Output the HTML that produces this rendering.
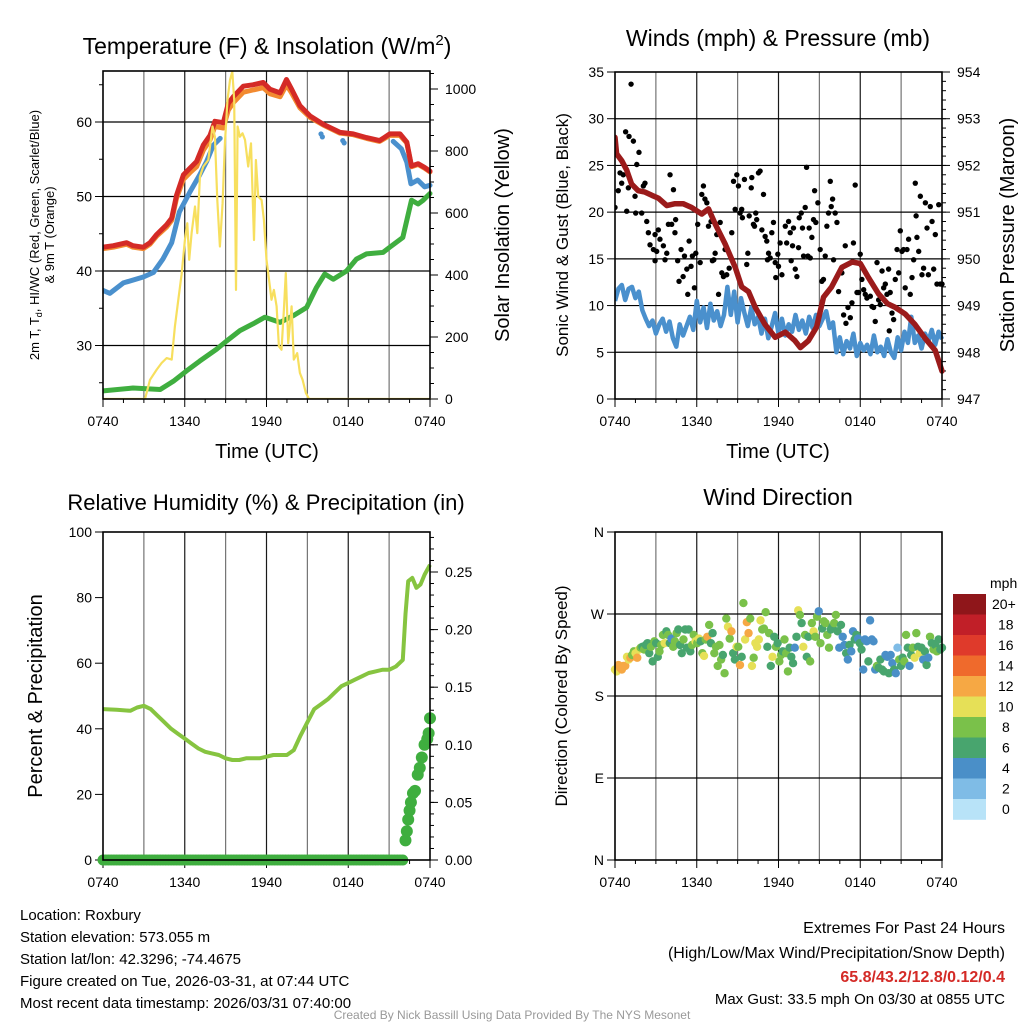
<!DOCTYPE html>
<html><head><meta charset="utf-8"><style>
html,body{margin:0;padding:0;background:#fff;}
svg{display:block;font-family:"Liberation Sans",Arial,sans-serif;}
</style></head><body>
<svg id="fig" width="1024" height="1024" viewBox="0 0 1024 1024" xmlns="http://www.w3.org/2000/svg">
<g id="p1"></g>
<g id="p2"></g>
<g id="p3"></g>
<g id="p4"></g>
<g font-size="15" fill="#000">
<text x="20" y="920">Location: Roxbury</text>
<text x="20" y="942">Station elevation: 573.055 m</text>
<text x="20" y="964">Station lat/lon: 42.3296; -74.4675</text>
<text x="20" y="986">Figure created on Tue, 2026-03-31, at 07:44 UTC</text>
<text x="20" y="1008">Most recent data timestamp: 2026/03/31 07:40:00</text>
</g>
<g text-anchor="end">
<text x="1005" y="933" font-size="16">Extremes For Past 24 Hours</text>
<text x="1005" y="958" font-size="16">(High/Low/Max Wind/Precipitation/Snow Depth)</text>
<text x="1005" y="982" font-size="16" font-weight="bold" fill="#d42a26">65.8/43.2/12.8/0.12/0.4</text>
<text x="1005" y="1004" font-size="15">Max Gust: 33.5 mph On 03/30 at 0855 UTC</text>
</g>
<text x="512" y="1019" font-size="12" fill="#999" text-anchor="middle">Created By Nick Bassill Using Data Provided By The NYS Mesonet</text>
</svg>
<script>
// ---------- data (hours since 0740 UTC) ----------
const xTickLabels = ["0740","1340","1940","0140","0740"];
const tempHours = [0,0.76,1.74,2.2,2.96,3.45,3.94,4.67,5.04,5.4,5.9,6.38,6.87,7.36,7.85,8.21,8.83,9.2,9.56,10.3,11.0,11.76,12.25,13.0,13.47,13.84,14.45,15.2,16.16,17.4,18.36,19.34,20.3,21.05,21.8,22.3,22.64,23.13,23.6,24];
const tempVals = [43.2,43.4,43.8,43.4,43.2,43.8,44.9,46.2,47.1,50.2,52.9,53.8,54.7,56.9,58.2,60.1,59.9,62.5,63.4,64.8,65.0,65.3,64.4,63.9,65.7,64.4,62.2,60.8,59.7,58.6,58.4,57.9,57.5,58.4,58.4,57.3,54.1,54.4,53.9,53.4];
const t9Vals = [43.0,43.2,43.6,43.2,43.0,43.6,44.7,45.9,46.8,49.8,52.3,53.2,54.0,56.2,57.6,59.4,59.2,61.6,62.6,64.0,64.3,64.6,63.8,63.4,65.0,63.9,61.9,60.6,59.6,58.5,58.3,57.8,57.4,58.2,58.2,57.2,54.0,54.3,53.8,53.3];
const wcHours = [0,0.5,1.5,2.96,3.7,4.4,5.04,5.6,6.38,7.1,7.6,8.1,8.6];
const wcVals = [37.4,37.0,38.4,39.2,39.8,41.6,43.8,47.9,50.6,52.9,54.7,56.9,57.8];
const wcHours2 = [21.3,21.9,22.3,22.6,23.1,23.6,24];
const wcVals2 = [57.4,56.4,54.6,51.7,52.2,51.3,51.5];
const wcDotHours = [16.0,16.1,17.6,17.7];
const wcDotVals = [58.4,58.0,57.5,57.2];
const dewHours = [0,2.2,4.2,5.16,6.14,7.1,8.34,9.07,10.05,11.0,11.88,13.0,13.96,14.94,15.67,16.28,16.9,17.87,18.6,19.34,20.56,21.05,22.0,22.64,23.13,23.5,24];
const dewVals = [23.9,24.3,24.1,25.2,26.6,27.9,29.5,30.6,32.0,32.9,33.8,33.1,34.0,35.1,37.8,39.6,38.9,40.0,41.6,42.3,42.5,43.2,44.5,49.5,49.0,49.5,50.4];
const solHours = [0,3.08,3.45,3.94,4.3,4.67,5.04,5.28,5.53,5.77,6.01,6.19,6.33,6.5,6.75,6.92,7.11,7.36,7.73,8.04,8.21,8.39,8.58,8.78,8.95,9.14,9.32,9.49,9.63,9.76,9.88,10.05,10.24,10.42,10.66,10.86,11.08,11.22,11.39,11.64,11.81,12.0,12.25,12.37,12.54,12.74,12.91,13.1,13.28,13.42,13.59,13.84,14.0,14.25,14.45,14.65,14.89,15.13,24];
const solVals = [0,0,62,95,116,132,127,234,320,402,513,567,449,535,621,535,717,750,771,879,846,642,492,632,825,965,1029,1056,965,352,879,846,857,836,750,825,513,771,653,642,578,449,363,320,352,299,170,159,288,406,180,299,127,148,84,62,19,0,0];
const tempTicks = [30,40,50,60];
const solTicks = [0,200,400,600,800,1000];

const presHours = [0,0.12,0.5,0.86,1.22,1.7,2.2,2.7,3.18,3.8,4.4,5.0,5.63,6.37,6.86,7.35,8.08,8.82,9.3,9.8,10.3,11.0,11.76,12.5,13.2,13.6,14.2,14.8,15.3,15.9,16.65,17.4,18.0,18.6,19.35,20.0,20.57,21.3,22.0,22.78,23.5,24.0];
const presVals = [952.6,952.25,952.1,951.9,951.6,951.46,951.43,951.36,951.3,951.14,951.18,951.18,951.1,950.96,951.07,950.75,950.32,949.82,949.4,949.3,948.96,948.6,948.32,948.43,948.25,948.1,948.25,948.54,949.18,949.4,949.82,949.93,949.9,949.6,949.25,949.04,948.96,948.82,948.6,948.29,948.04,947.6];
const windStep = 0.25;
const windVals = [10.5,11.8,12.2,10.6,11.8,12.0,10.8,11.5,9.5,8.6,7.8,8.4,7.0,8.0,8.6,7.2,8.3,6.5,5.6,8.0,6.8,7.8,8.8,7.4,10.5,8.2,9.8,7.6,10.2,8.4,9.4,7.8,9.0,12.0,9.0,11.5,8.2,10.8,9.2,7.8,9.8,8.0,8.8,7.0,8.6,6.5,7.8,9.2,7.0,8.6,6.8,8.0,7.2,9.0,7.4,8.4,7.0,8.8,7.6,9.0,7.8,8.6,9.4,7.6,8.2,5.0,6.6,4.8,6.2,5.4,7.0,4.6,6.0,5.2,5.8,4.8,6.8,5.0,5.6,4.6,6.4,5.0,4.4,6.6,5.2,7.2,6.0,8.8,6.0,6.8,5.4,7.0,6.2,7.4,5.8,7.2,6.4];
const gustHours = [0,0.24,0.37,0.49,0.61,0.78,0.86,0.98,1.03,1.18,1.35,1.47,1.52,1.6,1.76,1.96,2.08,2.2,2.33,2.45,2.57,2.82,2.94,2.94,3.06,3.18,3.3,3.55,3.67,3.8,3.92,4.04,4.16,4.29,4.4,4.45,4.6,4.7,4.85,5.0,5.1,5.27,5.34,5.44,5.58,5.68,5.83,5.93,6.07,6.25,6.37,6.49,6.6,6.74,6.86,7.05,7.15,7.25,7.35,7.47,7.6,7.72,7.84,7.96,8.08,8.2,8.38,8.57,8.7,8.82,8.94,9.06,9.18,9.3,9.35,9.5,9.67,9.75,9.85,10.0,10.04,10.16,10.24,10.33,10.4,10.53,10.65,10.78,10.9,11.02,11.14,11.19,11.27,11.39,11.51,11.63,11.76,11.8,11.95,12.0,12.12,12.25,12.5,12.6,12.74,12.86,12.93,13.03,13.1,13.23,13.35,13.47,13.52,13.67,13.76,13.84,13.96,14.06,14.16,14.25,14.33,14.45,14.57,14.65,14.74,14.89,15.06,15.18,15.3,15.43,15.55,15.67,15.8,15.87,15.97,16.04,16.16,16.29,16.41,16.65,16.78,16.9,16.95,17.1,17.27,17.39,17.5,17.63,17.76,17.88,18.0,18.12,18.25,18.37,18.49,18.74,18.86,18.98,19.1,19.23,19.35,19.47,19.6,19.72,19.84,19.96,20.08,20.13,20.2,20.33,20.45,20.57,20.7,20.82,20.94,21.06,21.18,21.3,21.43,21.55,21.67,21.8,21.92,22.04,22.1,22.16,22.29,22.41,22.53,22.65,22.78,22.9,23.0,23.14,23.27,23.39,23.51,23.63,23.76,23.88,24.0];
const gustVals = [20.5,22.3,24.2,23.1,24.0,28.6,20.1,22.6,28.1,33.7,27.6,21.7,19.9,25.1,26.4,19.9,22.8,23.1,19.0,17.8,16.5,16.0,17.6,14.8,15.8,18.1,17.1,16.4,14.9,15.6,18.7,24.0,18.7,22.4,17.8,19.2,14.8,12.6,16.0,13.1,15.3,13.9,11.2,16.9,14.2,15.3,11.9,15.6,18.7,14.6,21.9,22.8,21.4,21.0,18.5,19.0,14.8,14.9,15.6,17.6,11.2,18.9,13.5,13.1,16.0,13.3,14.0,17.8,23.3,20.3,24.0,22.8,19.9,20.3,19.4,23.5,14.4,15.6,19.6,22.6,23.7,18.7,18.5,19.9,19.2,24.2,24.4,18.1,21.9,17.4,16.9,14.9,15.6,15.1,17.8,18.9,14.6,13.0,15.5,14.2,16.7,13.3,18.5,16.7,19.0,17.8,14.8,16.4,18.3,13.9,13.1,16.2,19.4,19.9,18.3,15.3,20.5,24.8,15.3,18.3,15.1,17.3,19.2,22.3,18.9,21.0,16.0,12.6,12.8,15.3,18.5,19.9,23.3,20.6,21.4,14.9,19.9,18.9,11.5,13.5,9.0,16.4,8.1,9.8,8.7,10.3,16.7,22.9,11.4,11.4,15.5,12.8,11.7,11.2,10.8,11.0,9.9,9.8,8.3,14.6,10.6,10.1,13.7,11.9,12.3,11.2,13.9,7.3,11.4,9.2,8.5,12.8,16.0,13.5,18.0,15.8,16.0,11.9,16.0,17.1,11.2,13.0,14.9,23.1,19.6,17.3,15.8,21.7,13.3,14.0,21.0,18.3,13.3,20.6,19.0,13.9,17.6,12.3,20.8,12.3,12.3];
const windTicks = [0,5,10,15,20,25,30,35];
const presTicks = [947,948,949,950,951,952,953,954];

const rhHours = [0,1,2,2.5,3,3.5,4,4.5,5,5.5,6,6.5,7,7.5,8,8.5,9,9.5,10,10.5,11,11.5,12,12.5,13,13.5,14,14.5,15,15.5,16,16.5,17,17.5,18,18.5,19,19.5,20,20.5,21,21.5,22,22.2,22.4,22.7,23,23.3,23.6,24];
const rhVals = [46,45.8,45.5,46.5,47,46,44,42,40,38.5,37,35.5,34,33,32.5,32,31,30.5,30.5,31,31,31,31.5,32,32,32,33.5,38,42,46,47.5,49,51,53,54,55,56,57,57.5,58,58,59,61,75,85,86,83,84,87,90];
const precipStep = 0.2;
const precipVals = [0,0,0,0,0,0,0,0,0,0,0,0,0,0,0,0,0,0,0,0,0,0,0,0,0,0,0,0,0,0,0,0,0,0,0,0,0,0,0,0,0,0,0,0,0,0,0,0,0,0,0,0,0,0,0,0,0,0,0,0,0,0,0,0,0,0,0,0,0,0,0,0,0,0,0,0,0,0,0,0,0,0,0,0,0,0,0,0,0,0,0,0,0,0,0,0,0,0,0,0,0,0,0,0,0,0,0,0,0,0,0];
const precipRiseHours = [22.2,22.3,22.4,22.5,22.6,22.75,22.9,23.1,23.25,23.4,23.6,23.8,23.9,24];
const precipRiseVals = [0.017,0.025,0.035,0.043,0.05,0.058,0.06,0.074,0.08,0.089,0.1,0.105,0.11,0.123];
const rhTicks = [0,20,40,60,80,100];
const precipTicks = ["0.00","0.05","0.10","0.15","0.20","0.25"];

const dirVals = [209,207,214,211,209,213,213,223,220,222,225,229,227,222,231,233,234,231,236,238,227,234,218,240,238,223,229,236,247,238,251,247,238,243,234,240,249,253,236,227,242,253,233,253,229,236,247,240,238,243,240,227,224,242,245,258,238,249,227,234,213,236,220,225,205,265,256,243,251,227,220,234,234,214,223,282,242,261,249,265,213,222,238,234,242,263,253,254,272,234,249,213,223,245,234,238,218,225,229,242,227,207,233,223,216,233,245,274,269,260,234,247,223,245,218,260,251,245,267,273,238,254,262,260,247,233,253,256,260,269,251,233,258,245,236,227,220,236,229,251,242,247,243,238,231,209,242,240,218,263,242,240,209,213,211,220,209,207,225,223,205,225,216,209,205,233,220,213,222,218,247,233,213,225,233,222,249,234,227,233,220,229,214,222,245,238,231,236,229,242,231,233];
const spdVals = [10,10,12,12,12,12,12,10,10,12,8,8,10,12,10,8,6,8,6,6,6,8,6,8,6,6,8,8,8,10,6,8,6,4,8,8,8,6,6,6,8,6,6,6,6,8,8,10,8,10,6,8,10,8,12,8,6,6,8,8,8,8,8,6,8,8,10,8,12,6,6,10,8,12,6,8,10,12,12,8,10,8,10,10,10,10,8,8,8,6,8,6,10,6,8,6,8,8,6,8,8,8,6,6,6,4,6,10,8,6,10,8,6,6,8,8,10,8,8,4,8,6,8,8,8,8,6,6,8,8,6,4,6,4,4,6,4,6,4,4,6,6,4,6,6,4,4,4,6,4,4,4,4,8,6,6,6,6,4,4,6,4,4,6,4,2,8,6,6,8,8,6,4,6,8,10,8,6,10,6,4,6,6,4,8,6,8,6,8,6,6,6,6,6,6];
const dirTickLabels = ["N","E","S","W","N"];
const cbarLabels = ["0","2","4","6","8","10","12","14","16","18","20+"];
const cbarColors = ["#b8e3f8","#7fbce6","#4a8fc8","#48a56e","#7ac14a","#e6e057","#f6a844","#ef6a2c","#df3a2b","#c11f28","#8f161a"];

// ---------- helpers ----------
const NS = "http://www.w3.org/2000/svg";
function mk(parent, tag, attrs, txt){
  const e = document.createElementNS(NS, tag);
  for (const k in attrs) e.setAttribute(k, attrs[k]);
  if (txt !== undefined) e.textContent = txt;
  parent.appendChild(e);
  return e;
}
function xScale(L,R){ return h => L + h/24*(R-L); }
function linScale(v0,v1,p0,p1){ return v => p0 + (v-v0)/(v1-v0)*(p1-p0); }
function polyPts(hs, vs, sx, sy){ return hs.map((h,i)=>sx(h).toFixed(1)+","+sy(vs[i]).toFixed(1)).join(" "); }

function frame(g, L,R,T,B){
  const sx = xScale(L,R);
  // vertical grid every 3 h
  for (let h=3; h<24; h+=3){
    const gl = mk(g,"line",{x1:sx(h),x2:sx(h),y1:T,y2:B,stroke:"#000","stroke-width":1.2,"stroke-opacity":h%6===0?0.9:0.55});
    
    
  }
  for (let h=0; h<=24; h+=1.5){
    const tk = mk(g,"line",{x1:sx(h),x2:sx(h),y1:B,y2:B+(h%6===0?8:4),stroke:"#000","stroke-width":1});
    
    
  }
  xTickLabels.forEach((lab,i)=>{
    const t = mk(g,"text",{x:sx(i*6),y:B+27,"font-size":14,"text-anchor":"middle"},lab);
    
    
  });
}
function border(g,L,R,T,B){
  const r = mk(g,"rect",{x:L,y:T,width:R-L,height:B-T,fill:"none",stroke:"#000","stroke-width":1.6});
  
  
}
function leftTicks(g, vals, labels, sy, L, minorStep, vmin, vmax){
  if (minorStep) for (let v=vmin; v<=vmax+1e-9; v+=minorStep){
    mk(g,"line",{x1:L-4,x2:L,y1:sy(v),y2:sy(v),stroke:"#000","stroke-width":1});
  }
  vals.forEach((v,i)=>{
    mk(g,"line",{x1:L-8,x2:L,y1:sy(v),y2:sy(v),stroke:"#000","stroke-width":1});
    const t = mk(g,"text",{x:L-11,y:sy(v)+5,"font-size":14,"text-anchor":"end"},labels[i]);
    
    
  });
}
function rightTicks(g, vals, labels, sy, R, minorStep, vmin, vmax){
  if (minorStep) for (let v=vmin; v<=vmax+1e-9; v+=minorStep){
    mk(g,"line",{x1:R,x2:R+4,y1:sy(v),y2:sy(v),stroke:"#000","stroke-width":1});
  }
  vals.forEach((v,i)=>{
    mk(g,"line",{x1:R,x2:R+8,y1:sy(v),y2:sy(v),stroke:"#000","stroke-width":1});
    const t = mk(g,"text",{x:R+15,y:sy(v)+5,"font-size":14,"text-anchor":"start"},labels[i]);
    
    
  });
}
function rotText(g, x, y, txt, size, name){
  const t = mk(g,"text",{x:0,y:0,"font-size":size,"text-anchor":"middle",transform:`translate(${x},${y}) rotate(-90)`},txt);
  
  
  return t;
}

// ---------- panel 1 ----------
(function(){
  const g = document.getElementById("p1");
  const L=103,R=430,T=71,B=399;
  const sx = xScale(L,R);
  const sT = linScale(30,60,345.5,122);
  const sW = linScale(0,1000,399,89);
  frame(g,L,R,T,B);
  tempTicks.forEach(v=>{ mk(g,"line",{x1:L,x2:R,y1:sT(v),y2:sT(v),stroke:"#000","stroke-width":1.2}); });
  const title = mk(g,"text",{x:267,y:54,"font-size":23,"text-anchor":"middle"});
  
  
  title.innerHTML = 'Temperature (F) &amp; Insolation (W/m<tspan dy="-9" font-size="15">2</tspan><tspan dy="9">)</tspan>';
  const yl = mk(g,"text",{x:0,y:0,"font-size":13,"text-anchor":"middle",transform:"translate(39,235) rotate(-90)"});
  
  
  yl.innerHTML = '2m T, T<tspan dy="3" font-size="9">d</tspan><tspan dy="-3">, HI/WC (Red, Green, Scarlet/Blue)</tspan>';
  rotText(g,54,235,"& 9m T (Orange)",13,"temperature-y-axis-title-line2");
  rotText(g,509,235,"Solar Insolation (Yellow)",20,"insolation-y-axis-title");
  const xt = mk(g,"text",{x:267,y:458,"font-size":20,"text-anchor":"middle"},"Time (UTC)");
  
  
  leftTicks(g,tempTicks,tempTicks.map(String),sT,L,5,25,65);
  rightTicks(g,solTicks,solTicks.map(String),sW,R,50,0,1050);

  const clip = mk(g,"clipPath",{id:"c1"}); mk(clip,"rect",{x:L,y:T-6,width:R-L+3,height:B-T+6});
  const d = mk(g,"g",{"clip-path":"url(#c1)","fill":"none","stroke-linejoin":"round","stroke-linecap":"round"});
  const dew = mk(d,"polyline",{points:polyPts(dewHours,dewVals,sx,sT),stroke:"#3fae3f","stroke-width":5});
  
  
  const wc = mk(d,"polyline",{points:polyPts(wcHours,wcVals,sx,sT),stroke:"#4a90cd","stroke-width":5});
  
  
  const wc2 = mk(d,"polyline",{points:polyPts(wcHours2,wcVals2,sx,sT),stroke:"#4a90cd","stroke-width":5});
  
  
  wcDotHours.forEach((h,i)=>{
    const c = mk(d,"circle",{cx:sx(h),cy:sT(wcDotVals[i]),r:2.6,fill:"#4a90cd",stroke:"none"});
    
    
  });
  const t9 = mk(d,"polyline",{points:polyPts(tempHours,t9Vals,sx,sT),stroke:"#f28a30","stroke-width":5});
  
  
  const t2 = mk(d,"polyline",{points:polyPts(tempHours,tempVals,sx,sT),stroke:"#d42a26","stroke-width":5});
  
  
  const sol = mk(d,"polyline",{points:polyPts(solHours,solVals,sx,sW),stroke:"#f7df5e","stroke-width":2.2});
  
  
  border(g,L,R,T,B);
})();

// ---------- panel 2 ----------
(function(){
  const g = document.getElementById("p2");
  const L=615,R=942,T=72,B=399;
  const sx = xScale(L,R);
  const sWd = linScale(0,35,399,72);
  const sP = linScale(947,954,399,72);
  frame(g,L,R,T,B);
  windTicks.slice(1,7).forEach(v=>{ mk(g,"line",{x1:L,x2:R,y1:sWd(v),y2:sWd(v),stroke:"#000","stroke-width":1.2}); });
  const title = mk(g,"text",{x:778,y:46,"font-size":23,"text-anchor":"middle"},"Winds (mph) & Pressure (mb)");
  
  
  rotText(g,568,235,"Sonic Wind & Gust (Blue, Black)",17,"wind-y-axis-title");
  rotText(g,1014,235,"Station Pressure (Maroon)",20,"pressure-y-axis-title");
  const xt = mk(g,"text",{x:778,y:458,"font-size":20,"text-anchor":"middle"},"Time (UTC)");
  
  
  leftTicks(g,windTicks,windTicks.map(String),sWd,L,null);
  rightTicks(g,presTicks,presTicks.map(String),sP,R,0.2,947,954);
  const clip = mk(g,"clipPath",{id:"c2"}); mk(clip,"rect",{x:L,y:T,width:R-L+3,height:B-T});
  const d = mk(g,"g",{"clip-path":"url(#c2)","fill":"none","stroke-linejoin":"round"});
  const wh = windVals.map((v,i)=>i*windStep);
  const w = mk(d,"polyline",{points:polyPts(wh,windVals,sx,sWd),stroke:"#4a90cd","stroke-width":4.5});
  
  
  gustHours.forEach((h,i)=>{
    const c = mk(d,"circle",{cx:sx(h),cy:sWd(gustVals[i]),r:2.7,fill:"#000"});
    
    
  });
  const p = mk(d,"polyline",{points:polyPts(presHours,presVals,sx,sP),stroke:"#9b1b1b","stroke-width":5.5,"stroke-linecap":"round"});
  
  
  border(g,L,R,T,B);
})();

// ---------- panel 3 ----------
(function(){
  const g = document.getElementById("p3");
  const L=103,R=430,T=532,B=860;
  const sx = xScale(L,R);
  const sRH = linScale(0,100,860,532);
  const sPr = linScale(0,0.25,860,572);
  frame(g,L,R,T,B);
  const title = mk(g,"text",{x:266,y:510,"font-size":22,"text-anchor":"middle"},"Relative Humidity (%) & Precipitation (in)");
  
  
  rotText(g,42,696,"Percent & Precipitation",20,"humidity-y-axis-title");
  leftTicks(g,rhTicks,rhTicks.map(String),sRH,L,null);
  rightTicks(g,precipTicks.map(Number),precipTicks,sPr,R,0.01,0,0.28);
  const clip = mk(g,"clipPath",{id:"c3"}); mk(clip,"rect",{x:L-8,y:T,width:R-L+16,height:B-T+8});
  const d = mk(g,"g",{"clip-path":"url(#c3)","fill":"none","stroke-linejoin":"round"});
  const rh = mk(d,"polyline",{points:polyPts(rhHours,rhVals,sx,sRH),stroke:"#86c440","stroke-width":4});
  
  
  precipVals.forEach((v,i)=>{
    const c = mk(d,"circle",{cx:sx(i*precipStep),cy:sPr(v),r:5.5,fill:"#3fae3f"});
    
    
  });
  precipRiseHours.forEach((h,i)=>{
    const c = mk(d,"circle",{cx:sx(h),cy:sPr(precipRiseVals[i]),r:6,fill:"#3fae3f"});
    
    
  });
  border(g,L,R,T,B);
})();

// ---------- panel 4 ----------
(function(){
  const g = document.getElementById("p4");
  const L=615,R=942,T=532,B=860;
  const sx = xScale(L,R);
  const sD = linScale(0,360,860,532);
  frame(g,L,R,T,B);
  [90,180,270].forEach(v=>{ mk(g,"line",{x1:L,x2:R,y1:sD(v),y2:sD(v),stroke:"#000","stroke-width":1.2}); });
  const title = mk(g,"text",{x:778,y:505,"font-size":23,"text-anchor":"middle"},"Wind Direction");
  
  
  rotText(g,567,696,"Direction (Colored By Speed)",17,"direction-y-axis-title");
  leftTicks(g,[0,90,180,270,360],dirTickLabels,sD,L,null);
  const step = 24/(dirVals.length-1);
  dirVals.forEach((v,i)=>{
    const s = spdVals[i] !== undefined ? spdVals[i] : 6;
    const bin = Math.min(10, Math.floor(s/2));
    const c = mk(g,"circle",{cx:sx(i*step),cy:sD(v),r:4.2,fill:cbarColors[bin]});
    
    
  });
  border(g,L,R,T,B);
  // colorbar
  const cb = mk(g,"g",{});
  
  
  const cbT=594, cbH=20.5;
  const u = mk(cb,"text",{x:990,y:588,"font-size":14},"mph");
  
  
  for (let k=0;k<11;k++){
    const idx = 10-k;
    const r = mk(cb,"rect",{x:953,y:cbT+k*cbH,width:33,height:cbH+0.3,fill:cbarColors[idx]});
    
    
    const t = mk(cb,"text",{x:idx===10?992:(idx>=5?998:1002),y:cbT+k*cbH+15,"font-size":14},cbarLabels[idx]);
    
    
  }
})();
</script>
</body></html>
